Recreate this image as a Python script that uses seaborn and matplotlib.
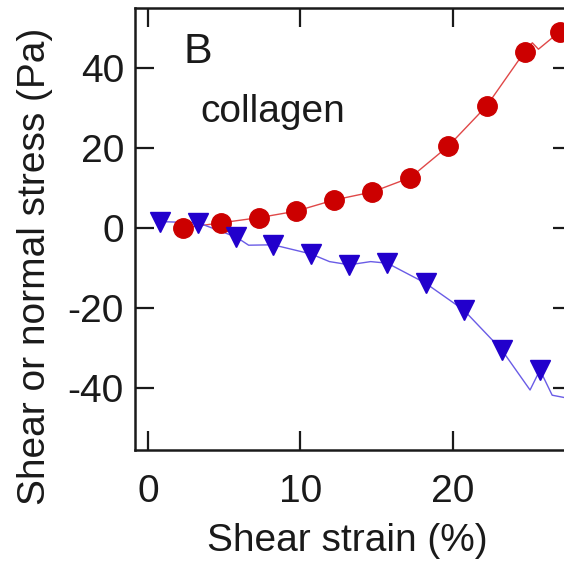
import matplotlib
matplotlib.use("Agg")
import matplotlib.pyplot as plt
import seaborn as sns
import pandas as pd

# ---- data ----
normal_x = [2.3, 4.8, 7.3, 9.7, 12.2, 14.7, 17.2, 19.7, 22.2, 24.7, 27.0]
normal_y = [0.0, 1.3, 2.6, 4.2, 7.0, 9.0, 12.6, 20.5, 30.5, 44.1, 49.1]
normal_line_x = [2.3, 4.8, 7.3, 9.7, 12.2, 14.7, 17.2, 19.7, 22.2, 24.7, 25.2, 25.6, 27.0, 28.0]
normal_line_y = [0.0, 1.3, 2.6, 4.2, 7.0, 9.0, 12.6, 20.5, 30.5, 44.1, 46.3, 44.7, 49.1, 51.0]

shear_x = [0.8, 3.3, 5.8, 8.2, 10.7, 13.2, 15.7, 18.2, 20.7, 23.2, 25.7]
shear_y = [1.6, 1.3, -2.3, -4.2, -6.5, -9.2, -8.8, -13.8, -20.5, -30.5, -35.5]
shear_line_x = [0.8, 3.3, 5.8, 6.6, 8.2, 10.7, 11.9, 13.2, 14.6, 15.7, 18.2, 20.7, 23.2, 25.05, 25.7, 26.5, 28.0]
shear_line_y = [1.6, 1.3, -2.3, -4.3, -4.2, -6.5, -8.4, -9.2, -8.4, -8.8, -13.8, -20.5, -30.5, -40.5, -35.5, -41.8, -42.9]

x_ticks = [0, 10, 20]
y_ticks = [-40, -20, 0, 20, 40]

sns.set_theme(style="ticks")
plt.rcParams['font.family'] = ['Liberation Sans', 'DejaVu Sans']
plt.rcParams['axes.unicode_minus'] = False

fig = plt.figure(figsize=(5.64, 5.67), dpi=100)
ax = fig.add_axes([135/564, 117/567, 437/564, 442/567])

red = "#cc0000"
blue = "#2200cc"
ink = "#1a1a1a"

sns.lineplot(x=normal_line_x, y=normal_line_y, sort=False, ax=ax, color="#e04848", lw=1.0)
sns.lineplot(x=shear_line_x, y=shear_line_y, sort=False, ax=ax, color="#6a5ce6", lw=1.0)
ax.plot(normal_x, normal_y, ls="none", marker="o", ms=14, color=red, mec=red)
ax.plot(shear_x, shear_y, ls="none", marker="v", ms=14, color=blue, mec=blue)

ax.set_xlim(-0.85, 27.8)
ax.set_ylim(-55.5, 55)
ax.set_xticks(x_ticks)
ax.set_yticks(y_ticks)
ax.tick_params(axis="both", which="both", direction="in", length=14, width=1.6,
               top=True, right=True, labelsize=28, colors=ink)
ax.tick_params(axis="x", pad=17)
ax.tick_params(axis="y", pad=8)
for s in ax.spines.values():
    s.set_linewidth(1.8)
    s.set_color(ink)

ax.set_xlabel("Shear strain (%)", fontsize=28, color=ink)
ax.set_ylabel("Shear or normal stress (Pa)", fontsize=28, color=ink)
ax.xaxis.set_label_coords(0.486, -0.165)
ax.yaxis.set_label_coords(-0.188, 0.416)

ax.text(0.111, 0.876, "B", transform=ax.transAxes, fontsize=31, color=ink, va="baseline")
ax.text(0.150, 0.742, "collagen", transform=ax.transAxes, fontsize=28, color=ink, va="baseline")

fig.savefig("out.png", dpi=100)
